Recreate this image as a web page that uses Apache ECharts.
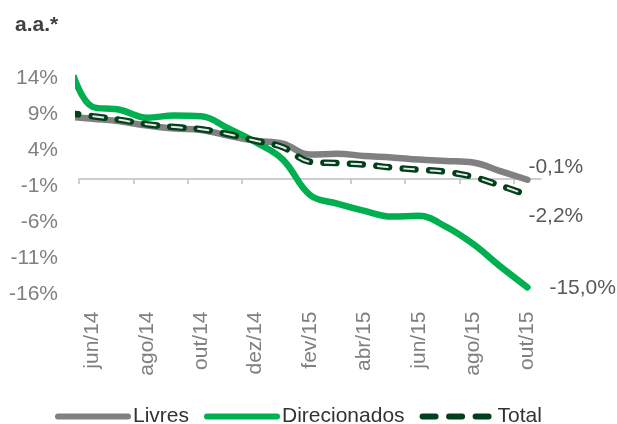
<!DOCTYPE html>
<html>
<head>
<meta charset="utf-8">
<script src="https://cdn.jsdelivr.net/npm/echarts@6/dist/echarts.min.js"></script>
<style>
html,body{margin:0;padding:0;background:#fff;}
#chart{width:617px;height:424px;}
</style>
</head>
<body>
<div id="chart"></div>
<script>
// Monthly categories (first month lies just left of the visible axis and is clipped)
const months = ['mai/14','jun/14','jul/14','ago/14','set/14','out/14','nov/14','dez/14','jan/15','fev/15','mar/15','abr/15','mai/15','jun/15','jul/15','ago/15','set/15','out/15'];
const tickLabels = ['jun/14','ago/14','out/14','dez/14','fev/15','abr/15','jun/15','ago/15','out/15'];
const yTickLabels = [-16, -11, -6, -1, 4, 9, 14];

const livres       = [8.7, 8.35, 8.0, 7.4, 7.0, 6.8, 6.0, 5.3, 4.9, 3.4, 3.5, 3.2, 3.0, 2.7, 2.5, 2.3, 1.1, -0.1];
const direcionados = [18.0, 10.0, 9.6, 8.5, 8.8, 8.7, 7.0, 5.1, 2.7, -2.2, -3.4, -4.4, -5.2, -5.1, -6.6, -9.0, -12.1, -15.0];
const total        = [9.2, 8.7, 8.2, 7.6, 7.2, 6.9, 6.2, 5.3, 4.4, 2.4, 2.2, 2.0, 1.6, 1.3, 1.0, 0.3, -0.9, -2.2];

// month i spans [i-1, i] on the axis (axis starts at the start of jun/14); points at month centres
const pos = i => i - 0.5;
const toPairs = arr => arr.map((v, i) => [pos(i), v]);
const fmtPct = v => v.toFixed(1).replace('.', ',') + '%';

const labelCenters = tickLabels.map(l => months.indexOf(l) - 0.5);
const tickStarts = tickLabels.map(l => months.indexOf(l) - 1);

const chart = echarts.init(document.getElementById('chart'), null, {renderer: 'canvas'});
const FONT = 'Liberation Sans, Arial, sans-serif';

const option = {
  animation: false,
  backgroundColor: '#fff',
  title: {
    text: 'a.a.*',
    left: 10, top: 10,
    textStyle: {fontFamily: FONT, fontSize: 21, fontWeight: 'bold', color: '#404040'}
  },
  grid: {left: 79, right: 76, top: 78, bottom: 129.5, containLabel: false},
  legend: {
    data: ['Livres', 'Direcionados', 'Total'],
    left: 50, top: 401,
    itemWidth: 70, itemHeight: 8, itemGap: 15,
    itemStyle: {opacity: 0},
    lineStyle: {width: 6, cap: 'round'},
    textStyle: {fontFamily: FONT, fontSize: 21, color: '#333'}
  },
  xAxis: [{
    type: 'value', min: 0, max: 17,
    axisLine: {show: true, onZero: true, lineStyle: {color: '#bfbfbf', width: 1.5}},
    axisTick: {show: true, length: 5, customValues: tickStarts, lineStyle: {color: '#bfbfbf', width: 1.5}},
    axisLabel: {show: false},
    splitLine: {show: false}
  }, {
    type: 'value', min: 0, max: 17, position: 'bottom',
    axisLine: {show: false, onZero: false},
    axisTick: {show: false},
    splitLine: {show: false},
    axisLabel: {
      show: true, rotate: 90, margin: 17,
      customValues: labelCenters,
      formatter: v => months[Math.round(v + 0.5)],
      fontFamily: FONT, fontSize: 21, color: '#808080'
    }
  }],
  yAxis: {
    type: 'value', min: -16, max: 14,
    axisLine: {show: false}, axisTick: {show: false}, splitLine: {show: false},
    axisLabel: {
      customValues: yTickLabels, margin: 21,
      formatter: v => v + '%',
      fontFamily: FONT, fontSize: 21, color: '#808080'
    }
  },
  series: [{
    name: 'Livres', type: 'line', xAxisIndex: 0, data: toPairs(livres),
    smooth: 0.4, symbol: 'none', clip: true,
    lineStyle: {color: '#808080', width: 6.5, cap: 'round'},
    itemStyle: {color: '#808080'},
    endLabel: {show: true, formatter: p => fmtPct(p.value[1]), offset: [-7, -13],
      fontFamily: FONT, fontSize: 21, color: '#595959'}
  }, {
    name: 'Direcionados', type: 'line', xAxisIndex: 0, data: toPairs(direcionados),
    smooth: 0.4, symbol: 'none', clip: true,
    lineStyle: {color: '#00b050', width: 6.5, cap: 'round'},
    itemStyle: {color: '#00b050'},
    endLabel: {show: true, formatter: p => fmtPct(p.value[1]), offset: [14, 1],
      fontFamily: FONT, fontSize: 21, color: '#595959'}
  }, {
    name: 'Total', type: 'line', xAxisIndex: 0, data: toPairs(total),
    smooth: 0.4, symbol: 'none', clip: true,
    lineStyle: {color: '#00401a', width: 6.5, cap: 'round', type: [13, 13.5]},
    itemStyle: {color: '#00401a'},
    endLabel: {show: true, formatter: p => fmtPct(p.value[1]), offset: [-7, 21],
      fontFamily: FONT, fontSize: 21, color: '#595959'}
  }, {
    name: 'TotalInner', type: 'line', xAxisIndex: 0, data: toPairs(total),
    smooth: 0.4, symbol: 'none', clip: true, silent: true,
    lineStyle: {color: '#e6e6e6', width: 2, cap: 'round', type: [10, 16.5], dashOffset: -1.5},
    itemStyle: {color: '#e6e6e6'}
  }]
};
chart.setOption(option);
</script>
</body>
</html>
